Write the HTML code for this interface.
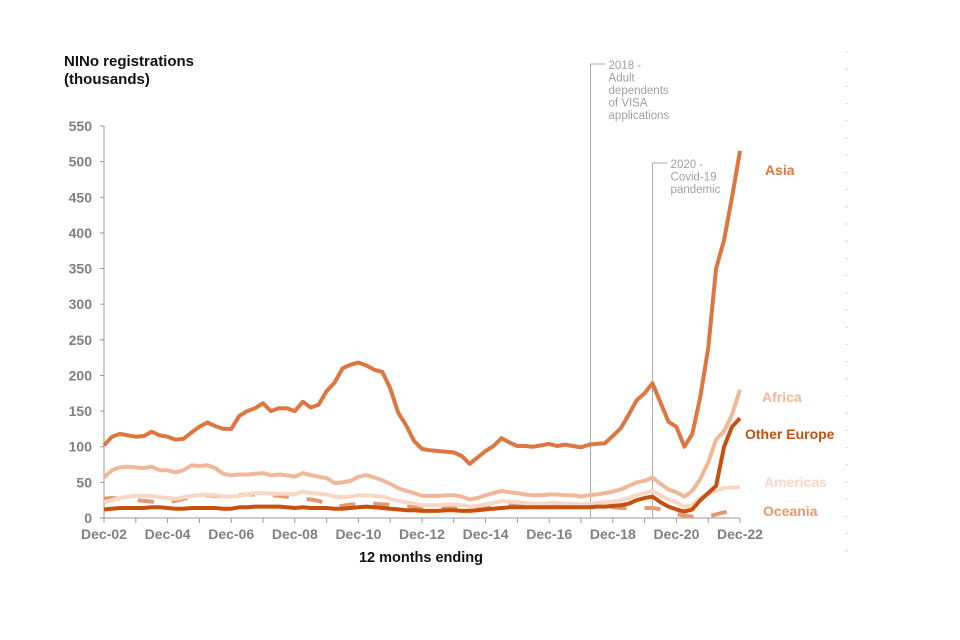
<!DOCTYPE html>
<html><head><meta charset="utf-8"><style>
body{margin:0;background:#fff;width:960px;height:640px;overflow:hidden}
svg{display:block}
text{font-family:"Liberation Sans",Arial,sans-serif}
</style></head><body>
<svg id="c" width="960" height="640">
<text x="64" y="66" font-size="15" font-weight="bold" fill="#111">NINo registrations</text>
<text x="64" y="84" font-size="15" font-weight="bold" fill="#111">(thousands)</text>
<text x="421" y="562" font-size="14.5" font-weight="bold" fill="#111" text-anchor="middle">12 months ending</text>
<g id="ax"></g><g id="ann"></g><g id="ser"></g><g id="lab"></g>
</svg>
<script>
const yTicks=[0,50,100,150,200,250,300,350,400,450,500,550];
const xLabels=["Dec-02","Dec-04","Dec-06","Dec-08","Dec-10","Dec-12","Dec-14","Dec-16","Dec-18","Dec-20","Dec-22"];
const asia=[102,114,118,116,114,115,121,116,114,110,111,120,128,134,129,125,125,143,150,154,161,150,154,154,150,163,155,159,178,190,210,215,218,214,208,205,182,148,130,108,97,95,94,93,92,87,76,85,94,101,112,106,101,101,100,102,104,101,103,101,99,103,104,105,115,126,145,165,175,189,162,135,128,100,118,170,238,350,390,450,515];
const africa=[57,67,71,72,71,70,72,67,67,64,67,74,73,74,70,62,60,61,61,62,63,60,61,60,58,63,60,58,56,49,50,52,58,60,57,53,48,42,38,35,31,31,31,32,32,30,26,28,32,35,38,36,35,33,32,32,33,33,32,32,30,32,33,35,37,40,45,50,52,57,48,40,36,30,38,55,78,110,122,145,180];
const americas=[22,25,28,30,31,31,31,29,28,27,29,31,32,33,32,30,30,31,33,35,35,34,34,34,33,37,35,34,33,30,29,30,32,32,31,30,27,24,22,20,18,18,18,19,19,18,16,17,19,21,24,23,22,21,20,20,21,21,20,20,19,20,21,22,23,25,28,32,35,38,32,26,22,16,18,28,34,38,42,43,43];
const otherEurope=[12,13,14,14,14,14,15,15,14,13,13,14,14,14,14,13,13,15,15,16,16,16,16,15,14,15,14,14,14,13,13,14,15,16,15,14,13,12,11,11,10,10,10,11,11,10,10,11,12,13,14,15,15,15,15,15,15,15,15,15,15,15,16,16,17,18,20,25,28,30,22,16,12,9,12,25,35,45,100,128,140];
const oceania=[27,28,27,26,25,24,23,23,22,24,27,29,31,32,31,30,31,32,33,33,33,32,31,30,28,27,26,24,20,16,17,19,19,20,20,19,19,18,17,16,15,15,15,14,14,13,12,13,15,17,19,19,19,18,18,18,18,18,18,17,17,17,16,16,15,14,14,14,14,14,12,10,6,3,2,1,2,5,8,10,12];
const NS="http://www.w3.org/2000/svg";
const x0=104,x1=740,y0=518,y1=126;
const X=i=>x0+(x1-x0)*i/80;
const Y=v=>y0-(y0-y1)*v/550;
function mk(t,a,p){const e=document.createElementNS(NS,t);for(const k in a)e.setAttribute(k,a[k]);p.appendChild(e);return e;}
const ax=document.getElementById('ax');
const yl=mk('line',{x1:x0,y1:y0,x2:x0,y2:y1,stroke:'#999'},ax);


const xl=mk('line',{x1:x0,y1:y0,x2:x1,y2:y0,stroke:'#999'},ax);


yTicks.forEach(v=>{
 mk('line',{x1:x0-4,y1:Y(v),x2:x0,y2:Y(v),stroke:'#999'},ax);
 const t=mk('text',{x:92,y:Y(v)+5,'font-size':14,'font-weight':'bold',fill:'#808080','text-anchor':'end'},ax);
 t.textContent=v;
 
 
});
for(let q=0;q<=80;q+=4) mk('line',{x1:X(q),y1:y0,x2:X(q),y2:y0+5,stroke:'#999'},ax);
xLabels.forEach((s,k)=>{
 const t=mk('text',{x:X(k*8),y:539,'font-size':14,'font-weight':'bold',fill:'#808080','text-anchor':'middle'},ax);
 t.textContent=s;
 
 
});
for(let y=52;y<566;y+=17.2) mk('line',{x1:845,y1:y,x2:848,y2:y,stroke:'#ddd'},ax);
const ann=document.getElementById('ann');
function annot(i,top,lines,name){
 const g=mk('g',{},ann);
 
 
 mk('polyline',{points:`${X(i)},${y0} ${X(i)},${top} ${X(i)+15},${top}`,fill:'none',stroke:'#aaa','stroke-width':1},g);
 lines.forEach((s,k)=>{const t=mk('text',{x:X(i)+18,y:top+5+k*12.5,'font-size':11.5,fill:'#a0a0a0'},g);t.textContent=s;});
}
annot(61.2,64,["2018 -","Adult","dependents","of VISA","applications"],'annotation-2018');
annot(69,163,["2020 -","Covid-19","pandemic"],'annotation-2020');
const ser=document.getElementById('ser');
function line(d,col,name,dash){
 const p=mk('path',{d:d.map((v,i)=>(i?'L':'M')+X(i).toFixed(1)+','+Y(v).toFixed(1)).join(''),fill:'none',stroke:col,'stroke-width':4,'stroke-linejoin':'round'},ser);
 if(dash)p.setAttribute('stroke-dasharray',dash);
 
 
}
line(oceania,'#e39a72','oceania-line','16 18');
line(americas,'#f8d8c4','americas-line');
line(africa,'#f0b898','africa-line');
line(otherEurope,'#c8500f','other-europe-line');
line(asia,'#dd7640','asia-line');
const lab=document.getElementById('lab');
[["Asia",765,175,'#dd7640','asia-label'],["Africa",762,402,'#f0b898','africa-label'],["Other Europe",745,439,'#c8500f','other-europe-label'],["Americas",764,487,'#f8d8c4','americas-label'],["Oceania",763,516,'#e39a72','oceania-label']].forEach(a=>{
 const t=mk('text',{x:a[1],y:a[2],'font-size':14,'font-weight':'bold',fill:a[3]},lab);
 t.textContent=a[0];
 
 
});
</script>
</body></html>
